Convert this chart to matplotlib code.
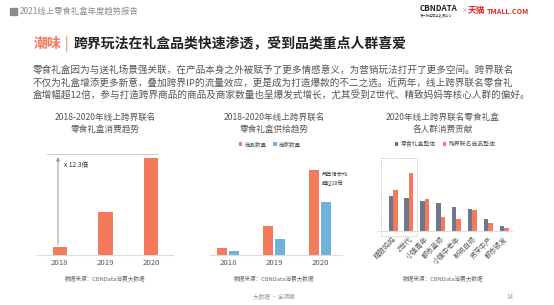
import matplotlib
matplotlib.use("Agg")
import matplotlib.pyplot as plt
from matplotlib.patches import Rectangle

plt.rcParams['font.family'] = ['Noto Sans CJK SC', 'DejaVu Sans']

# data
years = ["2018", "2019", "2020"]
consume_idx = [1.0, 5.45, 12.3]          # 线上跨界联名零食礼盒消费趋势 (2018 = 1)
goods_cnt = [7, 29, 85]                  # 商品数量 (相对值)
shop_cnt = [4, 16, 53]                   # 商家数量 (相对值)
groups = ["精致妈妈", "Z世代", "小镇青年", "都市蓝领", "小镇中老年", "新锐白领", "资深中产", "都市银发"]
box_total = [35, 33, 30, 28, 24, 22, 12, 5]      # 零食礼盒整体
crossover = [41, 58, 32, 14, 12, 21, 8, 3]       # 跨界联名商品整体

ORANGE = "#F47A5C"
BLUE = "#6DB3DC"
SLATE = "#6B788B"
GRAY = "#555555"
LIGHT = "#dddddd"

W, H = 554, 305
fig = plt.figure(figsize=(W / 100, H / 100), dpi=100)


def fx(x):
    return x / W


def fy(y):
    return 1 - y / H


def box(l, t, r, b):
    return [fx(l), fy(b), (r - l) / W, (b - t) / H]


def clean(ax):
    for s in ["top", "right", "left"]:
        ax.spines[s].set_visible(False)
    ax.spines["bottom"].set_color(LIGHT)
    ax.spines["bottom"].set_linewidth(0.8)
    ax.set_yticks([])
    ax.tick_params(axis="x", length=0, pad=3, labelsize=5.6, labelcolor=GRAY)


# header
fig.patches.append(Rectangle((fx(10), fy(15)), 7 / W, 7 / H, transform=fig.transFigure, color="#8a8a8a"))
fig.text(fx(20), fy(11.5), "2021线上零食礼盒年度趋势报告", fontsize=6, color="#8a8a8a", va="center")
fig.text(fx(420), fy(8.5), "CBNDATA", fontsize=5.8, fontweight="bold", color="#222222", va="center")
fig.text(fx(420), fy(16), "第一财经商业数据中心", fontsize=2.3, color="#444444", va="center")
fig.text(fx(461.5), fy(11), "×", fontsize=4, color="#777777", va="center")
fig.text(fx(468), fy(11), "天猫", fontsize=6.3, fontweight="bold", color="#E02E24", va="center")
fig.text(fx(487), fy(11.5), "TMALL.COM", fontsize=5.2, fontweight="bold", color="#E02E24", va="center")

# title
fig.text(fx(34), fy(44), "潮味", fontsize=10, fontweight="bold", color=ORANGE, va="center")
fig.text(fx(65), fy(44), "|", fontsize=10, color=ORANGE, va="center")
fig.text(fx(74), fy(44), "跨界玩法在礼盒品类快速渗透，受到品类重点人群喜爱", fontsize=10,
         fontweight="bold", color="#222222", va="center")

para = ["零食礼盒因为与送礼场景强关联，在产品本身之外被赋予了更多情感意义，为营销玩法打开了更多空间。跨界联名",
        "不仅为礼盒增添更多新意，叠加跨界IP的流量效应，更是成为打造爆款的不二之选。近两年，线上跨界联名零食礼",
        "盒增幅超12倍，参与打造跨界商品的商品及商家数量也呈爆发式增长，尤其受到Z世代、精致妈妈等核心人群的偏好。"]
for i, line in enumerate(para):
    fig.text(fx(33), fy(70 + 12.5 * i), line, fontsize=6.9, color=GRAY, va="center")

# chart 1
ax1 = fig.add_axes(box(37, 150, 173, 255))
x = list(range(len(years)))
ax1.bar(x, consume_idx, width=0.31, color=ORANGE)
ax1.set_xlim(-0.5, 2.48)
ax1.set_ylim(0, 13.31)
ax1.set_xticks(x, years)
clean(ax1)
top = max(consume_idx) + 0.5
ax1.plot([-0.27, 2.13], [top, top], color="#cccccc", lw=0.8, clip_on=False)
ax1.annotate("", xy=(-0.04, top - 0.05), xytext=(-0.04, consume_idx[0]),
             arrowprops=dict(arrowstyle="-|>", color="#8d96a8", lw=0.7, mutation_scale=5))
ax1.text(0.09, 11.4, "x %.1f倍" % (consume_idx[2] / consume_idx[0]), fontsize=4.8, color="#333333", va="center")
fig.text(fx(105), fy(117), "2018-2020年线上跨界联名", fontsize=6.2, color=GRAY, ha="center", va="center")
fig.text(fx(105), fy(129), "零食礼盒消费趋势", fontsize=6.2, color=GRAY, ha="center", va="center")
fig.text(fx(105), fy(279), "数据来源：CBNData消费大数据", fontsize=4.1, color="#666666", ha="center", va="center")

# chart 2
ax2 = fig.add_axes(box(210, 160, 342, 255))
ax2.bar([i - 0.13 for i in x], goods_cnt, width=0.22, color=ORANGE, label="商品数量")
ax2.bar([i + 0.13 for i in x], shop_cnt, width=0.22, color=BLUE, label="商家数量")
ax2.set_xlim(-0.39, 2.48)
ax2.set_ylim(0, 95)
ax2.set_xticks(x, years)
clean(ax2)
ax2.text(2.04, 75.5, "两年增长均\n超过10倍", fontsize=3.8, color="#333333", va="center", linespacing=1.5)
ax2.legend(loc="center", bbox_to_anchor=(fx(270), fy(144)), bbox_transform=fig.transFigure, ncol=2,
           frameon=False, fontsize=4, handlelength=0.6, handleheight=0.6, handletextpad=0.4,
           columnspacing=1.2, labelcolor=GRAY)
fig.text(fx(274), fy(117), "2018-2020年线上跨界联名", fontsize=6.2, color=GRAY, ha="center", va="center")
fig.text(fx(274), fy(129), "零食礼盒供给趋势", fontsize=6.2, color=GRAY, ha="center", va="center")
fig.text(fx(274), fy(279), "数据来源：CBNData消费大数据", fontsize=4.1, color="#666666", ha="center", va="center")

# chart 3
ax3 = fig.add_axes(box(378, 155, 512, 231))
g = list(range(len(groups)))
ax3.bar([i - 0.14 for i in g], box_total, width=0.28, color=SLATE, label="零食礼盒整体")
ax3.bar([i + 0.14 for i in g], crossover, width=0.28, color=ORANGE, label="跨界联名商品整体")
ax3.set_xlim(-0.95, 7.5)
ax3.set_ylim(0, 76)
ax3.set_xticks(g, groups)
clean(ax3)
ax3.tick_params(axis="x", labelsize=5)
for lab in ax3.get_xticklabels():
    lab.set_rotation(45)
    lab.set_ha("right")
    lab.set_va("top")
    lab.set_rotation_mode("anchor")
ax3.add_patch(Rectangle((-0.76, -5), 2.28, 78, fill=False, ls=(0, (1, 1.2)), lw=0.7,
                        edgecolor="#b8bcc6", clip_on=False))
ax3.legend(loc="center", bbox_to_anchor=(fx(445), fy(144)), bbox_transform=fig.transFigure, ncol=2,
           frameon=False, fontsize=4.2, handlelength=0.6, handleheight=0.6, handletextpad=0.4,
           columnspacing=1.2, labelcolor=GRAY)
fig.text(fx(443), fy(117), "2020年线上跨界联名零食礼盒", fontsize=6.2, color=GRAY, ha="center", va="center")
fig.text(fx(443), fy(129), "各人群消费贡献", fontsize=6.2, color=GRAY, ha="center", va="center")
fig.text(fx(443), fy(279), "数据来源：CBNData消费大数据", fontsize=4.1, color="#666666", ha="center", va="center")

# footer
fig.text(fx(274), fy(297), "大数据 · 全洞察", fontsize=4.1, color="#999999", ha="center", va="center")
fig.text(fx(510), fy(297), "14", fontsize=4.5, color="#999999", ha="center", va="center")

plt.savefig("out.png", dpi=100)
